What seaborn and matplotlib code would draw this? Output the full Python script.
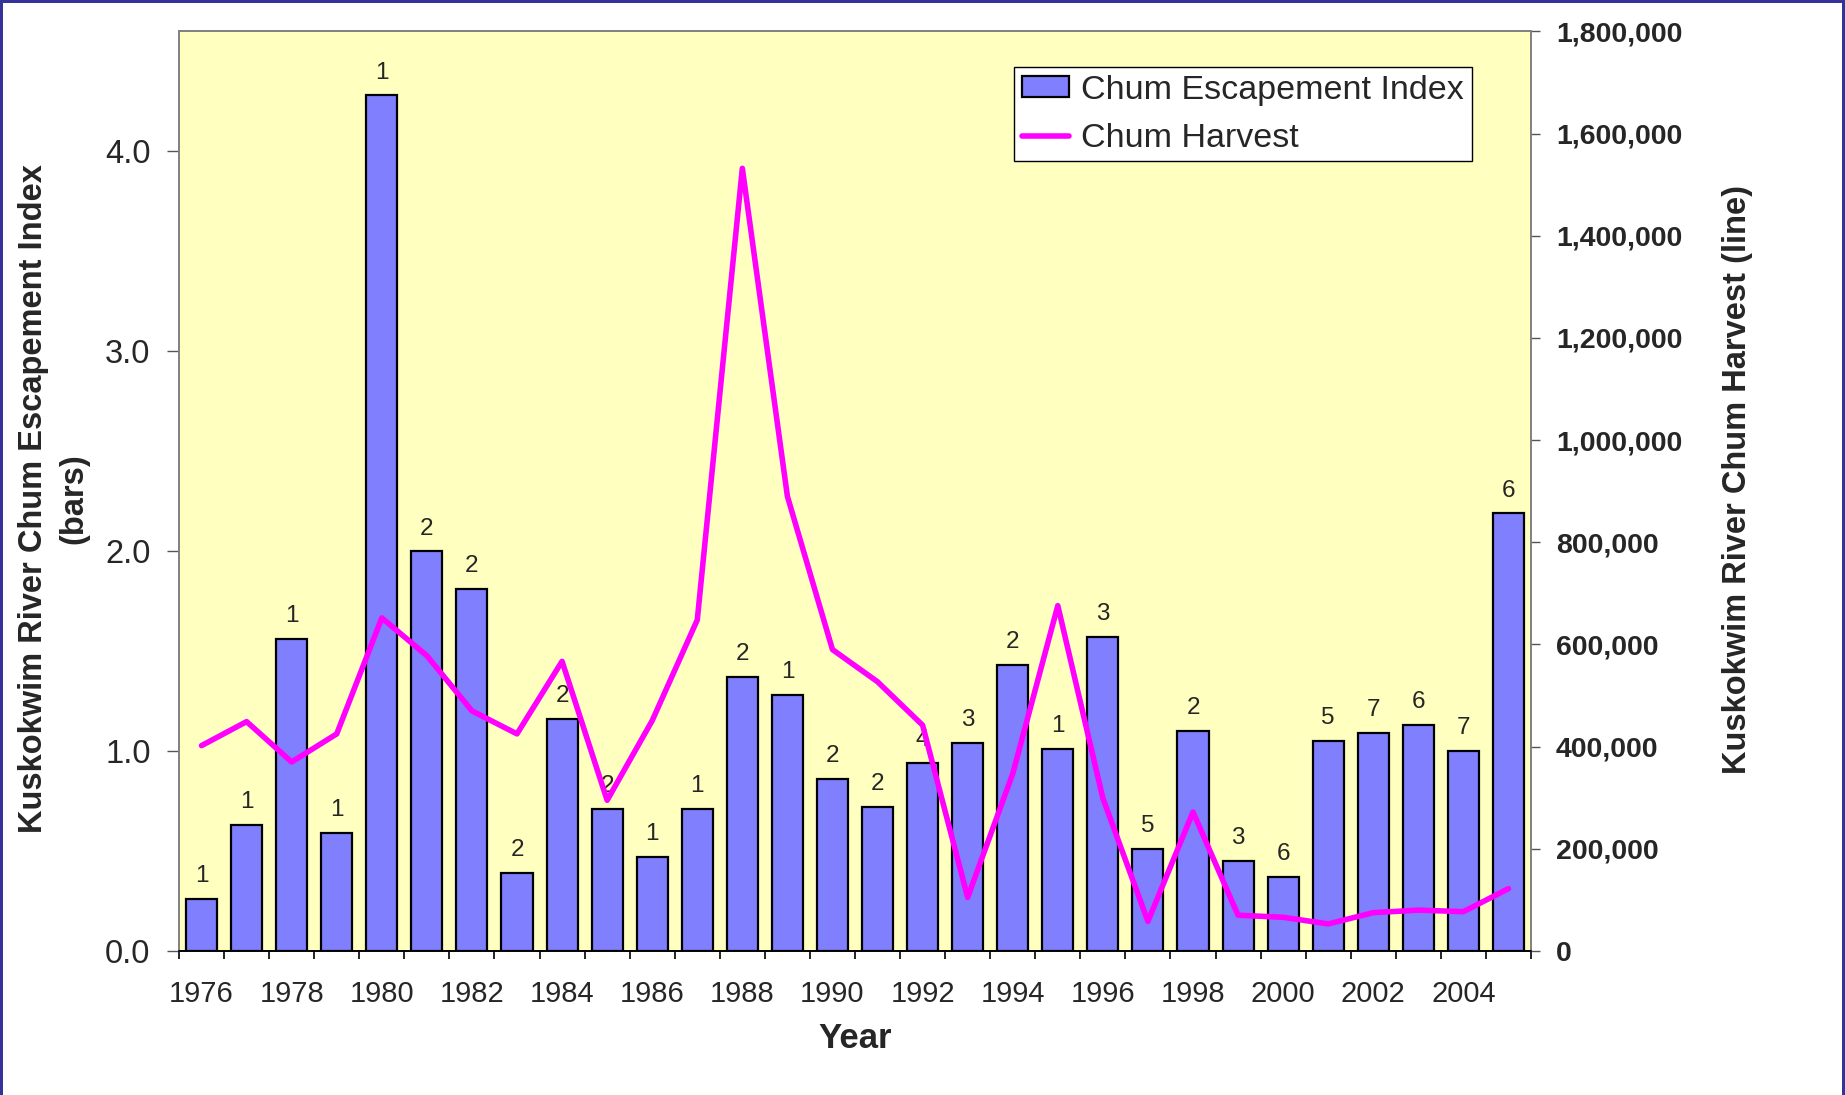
import numpy as np
import pandas as pd
import seaborn as sns
import matplotlib.pyplot as plt
from matplotlib.ticker import FuncFormatter, FixedLocator

years = list(range(1976, 2006))
escapement_index = [0.26, 0.63, 1.56, 0.59, 4.28, 2.00, 1.81, 0.39, 1.16, 0.71,
                    0.47, 0.71, 1.37, 1.28, 0.86, 0.72, 0.94, 1.04, 1.43, 1.01,
                    1.57, 0.51, 1.10, 0.45, 0.37, 1.05, 1.09, 1.13, 1.00, 2.19]
n_projects = [1, 1, 1, 1, 1, 2, 2, 2, 2, 2,
              1, 1, 2, 1, 2, 2, 4, 3, 2, 1,
              3, 5, 2, 3, 6, 5, 7, 6, 7, 6]
harvest = [402000, 449000, 370000, 425000, 652000, 578000, 470000, 425000, 567000, 295000,
           451000, 648000, 1532000, 890000, 590000, 527000, 442000, 105000, 347000, 676000,
           299000, 58000, 272000, 70000, 66000, 53000, 75000, 80000, 77000, 122000]

df = pd.DataFrame({'Year': years, 'Index': escapement_index,
                   'Harvest': harvest, 'N': n_projects})

sns.set_style('white')
plt.rcParams['font.family'] = ['Liberation Sans', 'DejaVu Sans']

fig = plt.figure(figsize=(18.45, 10.95), dpi=100)
ax = fig.add_axes([179 / 1845, 144 / 1095, 1352 / 1845, 919.6 / 1095])
ax.set_facecolor('#FFFFC0')

sns.barplot(data=df, x='Year', y='Index', ax=ax, color='#8080FF', saturation=1,
            width=0.69, edgecolor='black', linewidth=1.6, label='Chum Escapement Index')

ax2 = ax.twinx()
sns.pointplot(data=df, x='Year', y='Harvest', ax=ax2, color='#FF00FF', markers='',
              linewidth=4.0, errorbar=None, label='Chum Harvest')

ax.set_xlim(-0.5, len(years) - 0.5)
ax.set_ylim(0, 4.6)
ax2.set_ylim(0, 1800000)

# counts above the bars
for i, (v, k) in enumerate(zip(escapement_index, n_projects)):
    ax.annotate(str(k), (i, v), xytext=(0, 12), textcoords='offset points',
                ha='center', va='baseline', fontsize=17.5)

# x axis: labels every other year, ticks on category boundaries
ax.xaxis.set_major_locator(FixedLocator(range(0, len(years), 2)))
ax.set_xticklabels([str(y) for y in years[::2]], fontsize=21)
ax.xaxis.set_minor_locator(FixedLocator(np.arange(-0.5, len(years), 1)))
ax.tick_params(axis='x', which='major', length=0, pad=21)
ax.tick_params(axis='x', which='minor', bottom=True, length=6, width=1.2, color='black')

ax.set_yticks([0, 1, 2, 3, 4])
ax.yaxis.set_major_formatter(FuncFormatter(lambda v, p: f'{v:.1f}'))
ax.tick_params(axis='y', left=True, length=8.5, width=1, color='#555555',
               labelsize=23.5, pad=12)

ax2.set_yticks(np.arange(0, 1800001, 200000))
ax2.yaxis.set_major_formatter(FuncFormatter(lambda v, p: f'{int(v):,}'))
ax2.tick_params(axis='y', right=True, length=6.5, width=1, color='#555555',
                labelsize=20.5, pad=11.5)
for t in ax2.get_yticklabels():
    t.set_fontweight('bold')

for a in (ax, ax2):
    for s in a.spines.values():
        s.set_color('#808080')
        s.set_linewidth(1.2)
    a.spines['bottom'].set_color('black')
    a.grid(False)

ax.set_xlabel('Year', fontsize=25, fontweight='bold')
ax.xaxis.set_label_coords(0.5, -0.077)
ax.set_ylabel('Kuskokwim River Chum Escapement Index\n(bars)', fontsize=23.5,
              fontweight='bold', linespacing=1.38, va='center', ha='center',
              rotation_mode='default')
ax.yaxis.set_label_coords(-0.0925, 0.4915)
ax2.set_ylabel('Kuskokwim River Chum Harvest (line)', fontsize=23.5,
               fontweight='bold', va='center', ha='center', rotation_mode='default')
ax2.yaxis.set_label_coords(1.153, 0.513)

handles = [ax.patches[0], ax2.lines[0]]
labels = ['Chum Escapement Index', 'Chum Harvest']
if ax.get_legend():
    ax.get_legend().remove()
leg = ax2.legend(handles, labels, loc='upper right', bbox_to_anchor=(0.956, 0.961),
                 borderaxespad=0, fontsize=24.5, frameon=True, fancybox=False,
                 edgecolor='black', framealpha=1, handlelength=1.4,
                 handleheight=0.55, handletextpad=0.35, labelspacing=0.5,
                 borderpad=0.22)
leg.get_frame().set_linewidth(1.0)

# navy frame round the slide
for x0, y0, w, h in [(0, 1 - 3 / 1095, 1, 3 / 1095), (0, 0, 3 / 1845, 1),
                     (1 - 3 / 1845, 0, 3 / 1845, 1)]:
    fig.patches.append(plt.Rectangle((x0, y0), w, h, transform=fig.transFigure,
                                     facecolor='#333399', edgecolor='none', zorder=10))

fig.savefig('out.png', dpi=100, facecolor='white')
